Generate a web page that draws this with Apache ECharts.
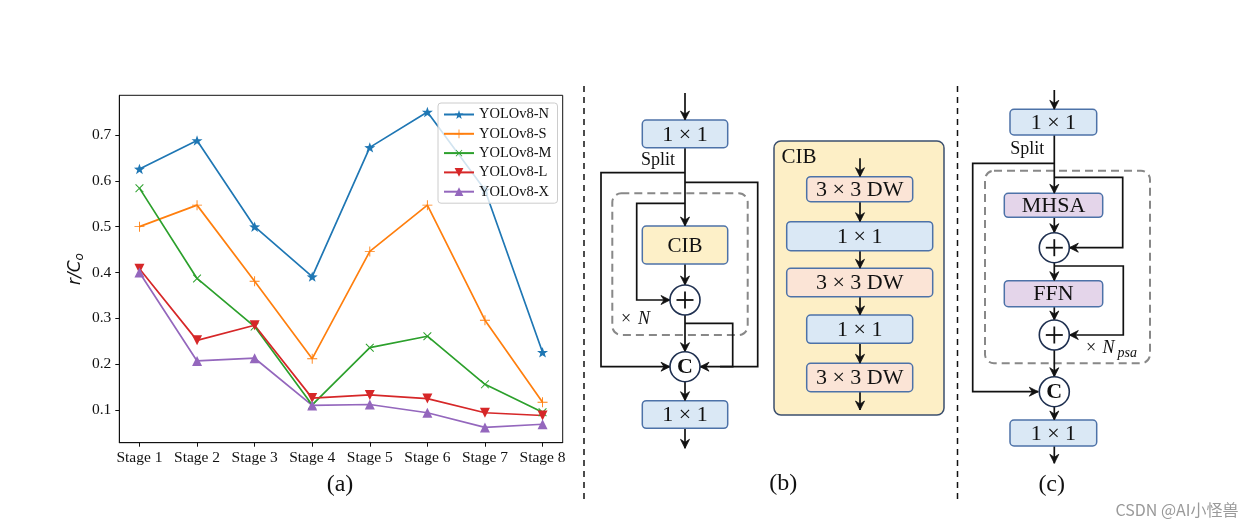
<!DOCTYPE html>
<html><head><meta charset="utf-8">
<script src="https://cdn.jsdelivr.net/npm/echarts@6/dist/echarts.min.js"></script>
<style>html,body{margin:0;padding:0;background:#fff}#c{width:1256px;height:528px}</style>
</head><body><div id="c"></div>
<script>
// ---- chart data ----
var stages = ['Stage 1','Stage 2','Stage 3','Stage 4','Stage 5','Stage 6','Stage 7','Stage 8'];
var yTicks = [0.1, 0.2, 0.3, 0.4, 0.5, 0.6, 0.7];
var yoloN = [0.626, 0.688, 0.500, 0.391, 0.673, 0.750, 0.580, 0.226];
var yoloS = [0.500, 0.547, 0.381, 0.212, 0.446, 0.547, 0.296, 0.117];
var yoloM = [0.584, 0.387, 0.282, 0.111, 0.236, 0.261, 0.156, 0.095];
var yoloL = [0.408, 0.252, 0.285, 0.126, 0.133, 0.125, 0.094, 0.088];
var yoloX = [0.400, 0.207, 0.213, 0.110, 0.112, 0.094, 0.062, 0.069];
var seriesNames = ['YOLOv8-N','YOLOv8-S','YOLOv8-M','YOLOv8-L','YOLOv8-X'];

var SERIF = '"Liberation Serif", "DejaVu Serif", serif';
var colors = ['#1f77b4','#ff7f0e','#2ca02c','#d62728','#9467bd'];
var starPath = 'path://M0,-10 L2.35,-3.24 L9.51,-3.09 L3.8,1.24 L5.88,8.09 L0,4 L-5.88,8.09 L-3.8,1.24 L-9.51,-3.09 L-2.35,-3.24Z';
var plusPath = 'path://M-0.9,-10 L0.9,-10 L0.9,-0.9 L10,-0.9 L10,0.9 L0.9,0.9 L0.9,10 L-0.9,10 L-0.9,0.9 L-10,0.9 L-10,-0.9 L-0.9,-0.9Z';

function toXY(arr){ return arr.map(function(v,i){ return [i+1, v]; }); }
var sets = [
  {d: yoloN, sym: starPath, size: 11, rot: 0},
  {d: yoloS, sym: plusPath, size: 10, rot: 0},
  {d: yoloM, sym: plusPath, size: 11, rot: 45},
  {d: yoloL, sym: 'triangle', size: 10, rot: 180},
  {d: yoloX, sym: 'triangle', size: 10, rot: 0}
];
var series = sets.map(function(s, k){
  return {
    name: seriesNames[k], type: 'line', data: toXY(s.d),
    symbol: s.sym, symbolSize: s.size, symbolRotate: s.rot, symbolKeepAspect: true,
    showSymbol: true, animation: false,
    lineStyle: {color: colors[k], width: 1.7},
    itemStyle: {color: colors[k], borderWidth: 0}
  };
});

// ---- diagram helpers (decoration, not data) ----
var G = [];
var BLUE_F = '#dae8f5', BLUE_S = '#4d72a8', YEL_F = '#fdf0c8', PEACH_F = '#fbe4d6', LAV_F = '#e4d5ea';
function box(x1,y1,x2,y2,fill,txt,fs){
  G.push({type:'rect', silent:true, shape:{x:x1,y:y1,width:x2-x1,height:y2-y1,r:4},
    style:{fill:fill, stroke:BLUE_S, lineWidth:1.5}, z:10});
  if(txt) G.push({type:'text', silent:true, z:11, style:{text:txt, x:(x1+x2)/2, y:(y1+y2)/2+1, align:'center', verticalAlign:'middle', fill:'#111', font:'normal '+(fs||22)+'px '+SERIF}});
}
function poly(pts){
  G.push({type:'polyline', silent:true, z:9, shape:{points:pts}, style:{stroke:'#111', lineWidth:1.7, fill:null}});
}
function head(x,y,dx,dy){
  var L=Math.sqrt(dx*dx+dy*dy); dx/=L; dy/=L;
  var px=-dy, py=dx, len=9, hw=4.5, notch=3;
  G.push({type:'polygon', silent:true, z:12, shape:{points:[
    [x,y],[x-dx*len+px*hw, y-dy*len+py*hw],[x-dx*(len-notch), y-dy*(len-notch)],[x-dx*len-px*hw, y-dy*len-py*hw]]},
    style:{fill:'#111', stroke:'#111', lineWidth:0.8}});
}
function arrowPath(pts){
  poly(pts);
  var n=pts.length, a=pts[n-2], b=pts[n-1];
  head(b[0],b[1],b[0]-a[0],b[1]-a[1]);
}
function arrow(x1,y1,x2,y2){ arrowPath([[x1,y1],[x2,y2]]); }
function circ(cx,cy,kind){
  G.push({type:'circle', silent:true, z:12, shape:{cx:cx,cy:cy,r:15}, style:{fill:'#fff', stroke:'#1f3050', lineWidth:1.6}});
  if(kind==='+'){
    G.push({type:'line', silent:true, z:13, shape:{x1:cx-8.5,y1:cy,x2:cx+8.5,y2:cy}, style:{stroke:'#111', lineWidth:1.8}});
    G.push({type:'line', silent:true, z:13, shape:{x1:cx,y1:cy-8.5,x2:cx,y2:cy+8.5}, style:{stroke:'#111', lineWidth:1.8}});
  } else {
    G.push({type:'text', silent:true, z:13, style:{text:'C', x:cx, y:cy+1, align:'center', verticalAlign:'middle', fill:'#111', font:'bold 22px '+SERIF}});
  }
}
function dashBox(x1,y1,x2,y2){
  G.push({type:'rect', silent:true, z:8, shape:{x:x1,y:y1,width:x2-x1,height:y2-y1,r:9},
    style:{fill:null, stroke:'#888', lineWidth:2, lineDash:[8,5]}});
}
function txt(t,x,y,font,align,color){
  G.push({type:'text', silent:true, z:14, style:{text:t, x:x, y:y, align:align||'center', verticalAlign:'middle', fill:color||'#111', font:font}});
}

// separators
G.push({type:'line', silent:true, shape:{x1:584,y1:86,x2:584,y2:500}, style:{stroke:'#111', lineWidth:1.5, lineDash:[6,5]}});
G.push({type:'line', silent:true, shape:{x1:957.5,y1:86,x2:957.5,y2:500}, style:{stroke:'#111', lineWidth:1.5, lineDash:[6,5]}});

// panel (a) caption
txt('(a)', 340, 485, 'normal 24px '+SERIF);

// panel (b)
var bx = 685;
arrow(bx,93,bx,120);
box(642.3,120,727.7,147.7,BLUE_F,'1 × 1');
txt('Split', 658, 160.7, 'normal 18px '+SERIF);
arrow(bx,147.7,bx,226);
arrowPath([[bx,172.7],[601,172.7],[601,366.7],[670,366.7]]);
arrowPath([[bx,182.3],[757.7,182.3],[757.7,366.7],[700,366.7]]);
dashBox(612.3,193.3,747.7,335);
arrowPath([[bx,203.3],[636.7,203.3],[636.7,300],[670,300]]);
box(642.3,226,727.7,264,YEL_F,'CIB',21);
arrow(bx,264,bx,285);
circ(bx,300,'+');
arrow(bx,315,bx,351.7);
poly([[bx,323.3],[732.7,323.3],[732.7,366.7],[720,366.7]]);
circ(bx,366.7,'C');
arrow(bx,381.7,bx,400.7);
box(642.3,400.7,727.7,428.3,BLUE_F,'1 × 1');
arrow(bx,428.3,bx,448.3);
txt('×', 626, 319.5, 'normal 18px '+SERIF);
txt('N', 638, 319.5, 'italic 18px '+SERIF, 'left');
txt('(b)', 783.3, 483.3, 'normal 24px '+SERIF);

// CIB panel
G.push({type:'rect', silent:true, z:5, shape:{x:774,y:141,width:170,height:274,r:7}, style:{fill:'#fdefc6', stroke:'#3b4f6e', lineWidth:1.5}});
txt('CIB', 781.5, 157.5, 'normal 21px '+SERIF, 'left');
var cx2 = 860;
arrow(cx2,158.3,cx2,176.7);
box(806.7,176.7,912.7,201.7,PEACH_F,'3 × 3 DW');
arrow(cx2,201.7,cx2,221.7);
box(786.7,221.7,932.7,250.7,BLUE_F,'1 × 1');
arrow(cx2,250.7,cx2,268.3);
box(786.7,268.3,932.7,296.7,PEACH_F,'3 × 3 DW');
arrow(cx2,296.7,cx2,315);
box(806.7,315,912.7,343.3,BLUE_F,'1 × 1');
arrow(cx2,343.3,cx2,363.3);
box(806.7,363.3,912.7,391.7,PEACH_F,'3 × 3 DW');
arrow(cx2,391.7,cx2,410);

// panel (c)
var cc = 1054.3;
arrow(cc,90,cc,109.3);
box(1010,109.3,1096.7,135,BLUE_F,'1 × 1');
txt('Split', 1027.3, 149, 'normal 18px '+SERIF);
arrow(cc,135,cc,193.3);
arrowPath([[cc,163.3],[972.7,163.3],[972.7,391.7],[1038.3,391.7]]);
dashBox(985,170.7,1150,363.3);
arrowPath([[cc,177.3],[1122.7,177.3],[1122.7,247.7],[1069.3,247.7]]);
box(1004.3,193.3,1102.7,217.3,LAV_F,'MHSA');
arrow(cc,217.3,cc,232.7);
circ(cc,247.7,'+');
arrow(cc,262.7,cc,280.7);
arrowPath([[cc,266],[1123.3,266],[1123.3,335],[1069.3,335]]);
box(1004.3,280.7,1102.7,306.7,LAV_F,'FFN');
arrow(cc,306.7,cc,320);
circ(cc,335,'+');
arrow(cc,350,cc,376.7);
circ(cc,391.7,'C');
arrow(cc,406.7,cc,420);
box(1010,420,1096.7,446,BLUE_F,'1 × 1');
arrow(cc,446,cc,463.3);
txt('×', 1091, 348.3, 'normal 18px '+SERIF);
txt('N', 1102.5, 348.3, 'italic 18px '+SERIF, 'left');
txt('psa', 1117.5, 353.5, 'italic 14px '+SERIF, 'left');
txt('(c)', 1051.7, 485, 'normal 24px '+SERIF);

// watermark
txt('CSDN @AI小怪兽', 1177, 509.5, 'normal 16px "Noto Sans CJK SC", "Noto Sans", sans-serif', 'center', '#9a9a9a');

var chart = echarts.init(document.getElementById('c'), null, {renderer:'canvas'});
chart.setOption({
  animation: false,
  backgroundColor: '#fff',
  grid: {left: 119.3, top: 95.3, width: 443.4, height: 347.4, show: true, borderColor: '#111', borderWidth: 1, backgroundColor: 'transparent'},
  xAxis: {
    type: 'value', min: 0.65, max: 8.35,
    axisLine: {show: true, onZero: false, lineStyle: {color: '#111', width: 1}},
    axisTick: {show: true, inside: false, length: 4, customValues: [1,2,3,4,5,6,7,8], lineStyle: {color: '#111'}},
    axisLabel: {customValues: [1,2,3,4,5,6,7,8], formatter: function(v){ return stages[Math.round(v)-1]; },
      margin: 7, color: '#111', fontFamily: SERIF, fontSize: 15.5},
    splitLine: {show: false}
  },
  yAxis: {
    type: 'value', min: 0.0287, max: 0.7866,
    name: '{i|r/C}{s|o}', nameLocation: 'middle', nameGap: 33, nameRotate: 90,
    nameTextStyle: {rich: {
      i: {fontFamily: '"DejaVu Sans", sans-serif', fontStyle: 'italic', fontSize: 17, color: '#111'},
      s: {fontFamily: '"DejaVu Sans", sans-serif', fontStyle: 'italic', fontSize: 12, color: '#111', padding: [9,0,0,0]}
    }},
    axisLine: {show: true, onZero: false, lineStyle: {color: '#111', width: 1}},
    axisTick: {show: true, inside: false, length: 4, customValues: yTicks, lineStyle: {color: '#111'}},
    axisLabel: {customValues: yTicks, formatter: function(v){ return v.toFixed(1); },
      margin: 8, color: '#111', fontFamily: SERIF, fontSize: 15.5},
    splitLine: {show: false}
  },
  legend: {
    orient: 'vertical', left: 438, top: 103,
    data: seriesNames,
    backgroundColor: 'rgba(255,255,255,0.8)', borderColor: '#ccc', borderWidth: 1, borderRadius: 3,
    padding: [4, 6, 4, 5], itemWidth: 30, itemHeight: 11, itemGap: 4.3,
    textStyle: {fontFamily: SERIF, fontSize: 14.5, color: '#111', lineHeight: 15},
    z: 20
  },
  series: series,
  graphic: {elements: G}
});
</script></body></html>
